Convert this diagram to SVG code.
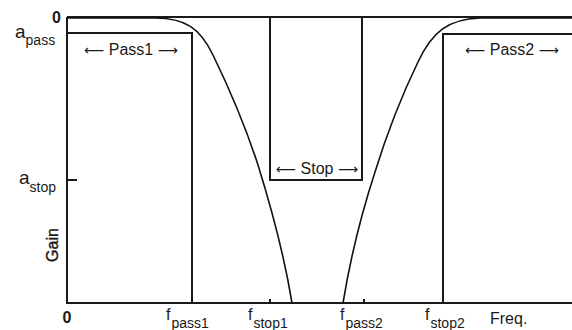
<svg xmlns="http://www.w3.org/2000/svg" width="572" height="330" viewBox="0 0 572 330">
<style>
.ln{fill:none;stroke:#1a1a1a;stroke-width:2}
.cv{fill:none;stroke:#111;stroke-width:1.6}
.t{font-family:"Liberation Sans",Arial,sans-serif;fill:#1a1a1a;font-size:16px}
.s{font-family:"Liberation Sans",Arial,sans-serif;fill:#1a1a1a;font-size:14px}
.b{font-family:"Liberation Sans",Arial,sans-serif;fill:#1a1a1a;font-size:16px;font-weight:bold}
.a{font-family:"DejaVu Sans",sans-serif;font-size:14px}
</style>
<rect width="572" height="330" fill="#fff"/>
<g id="axes">
<path class="ln" d="M67,17 H572 M67,17 V303 H572"/>
<path class="ln" d="M67,180 H77 M270,299 V303 M364,299 V303" stroke-width="1.5"/>
</g>
<g id="pass1">
<path class="ln" d="M67,33 H192 V303"/>
<text class="t" x="131" y="55" text-anchor="middle"><tspan class="a">⟵</tspan> Pass1 <tspan class="a">⟶</tspan></text>
</g>
<g id="stop">
<path class="ln" d="M270,17 V180 H362 V17"/>
<text class="t" x="317" y="174" text-anchor="middle"><tspan class="a">⟵</tspan> Stop <tspan class="a">⟶</tspan></text>
</g>
<g id="pass2">
<path class="ln" d="M443,303 V34 H572"/>
<text class="t" x="512" y="55" text-anchor="middle"><tspan class="a">⟵</tspan> Pass2 <tspan class="a">⟶</tspan></text>
</g>
<g id="response">
<path class="cv" d="M67,18 L155,18 C185,18 200,28 213,55 C230,90 245,125 258,165 C272,210 285,260 292,303"/>
<path class="cv" d="M343,303 C350,260 362,212 375,172 C388,130 402,95 418,62 C432,32 448,19 480,18 L572,18"/>
</g>
<g id="labels">
<text class="b" x="61" y="23" text-anchor="end">0</text>
<text class="t" x="15" y="38" style="font-size:19px">a<tspan class="s" dy="7">pass</tspan></text>
<text class="t" x="19" y="184" style="font-size:19px">a<tspan class="s" dy="8">stop</tspan></text>
<text class="b" transform="translate(58,245) rotate(-90)" text-anchor="middle" style="font-weight:normal;font-size:16px;stroke:#1a1a1a;stroke-width:0.4">Gain</text>
<text class="b" x="67" y="323" text-anchor="middle">0</text>
<text class="t" x="166" y="320">f<tspan class="s" dx="1" dy="8">pass1</tspan></text>
<text class="t" x="248" y="320">f<tspan class="s" dx="1" dy="8">stop1</tspan></text>
<text class="t" x="340" y="320">f<tspan class="s" dx="1" dy="8">pass2</tspan></text>
<text class="t" x="425" y="320">f<tspan class="s" dx="1" dy="8">stop2</tspan></text>
<text class="t" x="490" y="324">Freq.</text>
</g>
</svg>
